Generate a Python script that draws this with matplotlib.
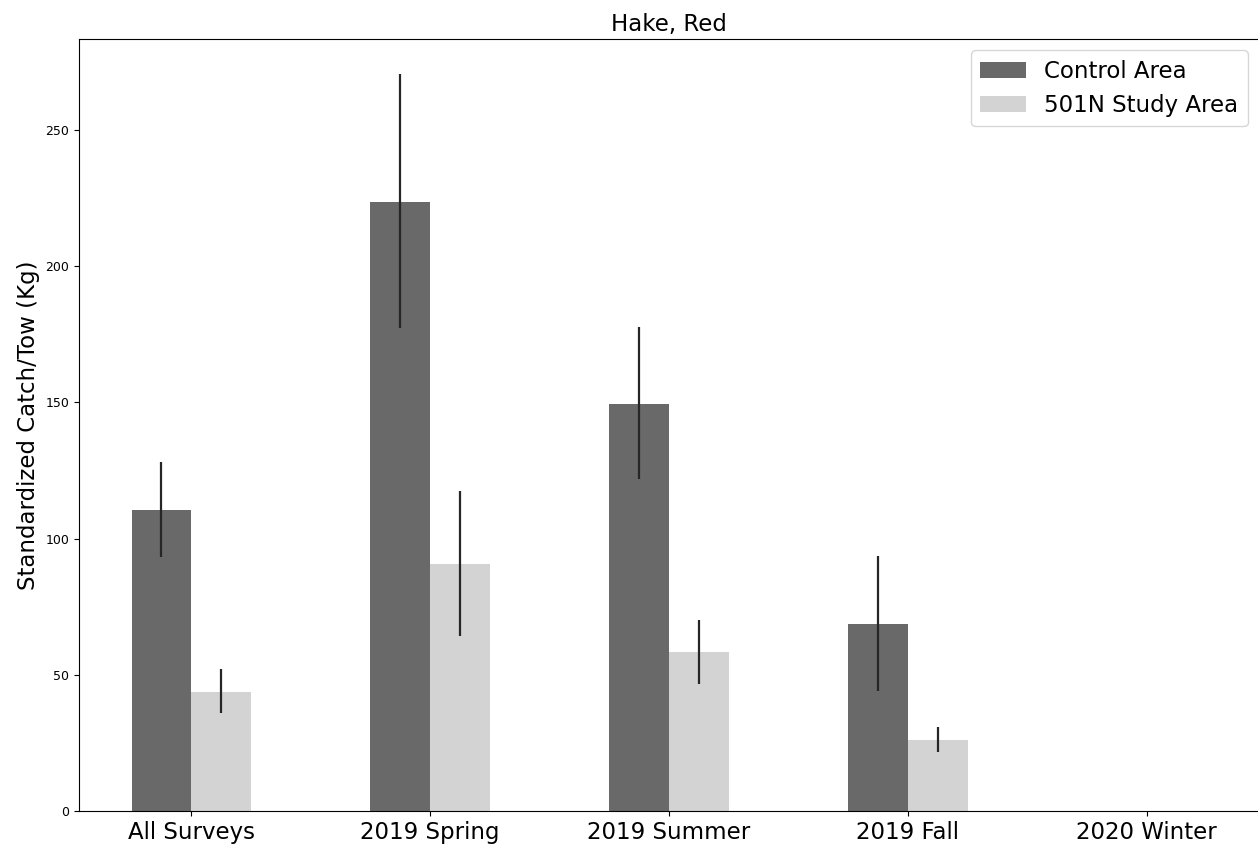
import matplotlib
matplotlib.use("Agg")
import matplotlib.pyplot as plt
import numpy as np

# Datos
categorias = ["All Surveys", "2019 Spring", "2019 Summer", "2019 Fall", "2020 Winter"]
control = [110.4, 223.4, 149.3, 68.6, 0.0]
control_sup = [128.0, 270.4, 177.5, 93.5, 0.0]
control_inf = [93.2, 177.2, 121.8, 44.0, 0.0]
estudio = [43.7, 90.6, 58.3, 26.0, 0.0]
estudio_sup = [52.1, 117.4, 70.1, 30.8, 0.0]
estudio_inf = [36.0, 64.2, 46.6, 21.6, 0.0]

control = np.array(control)
estudio = np.array(estudio)
err_control = [control - np.array(control_inf), np.array(control_sup) - control]
err_estudio = [estudio - np.array(estudio_inf), np.array(estudio_sup) - estudio]

fig = plt.figure(figsize=(12.58, 8.46), dpi=100)
ax = fig.add_axes([79/1258, 35/846, 1180/1258, 772/846])

x = np.arange(len(categorias))
ancho = 0.25
ax.bar(x - ancho/2, control, ancho, color="#696969", label="Control Area",
       yerr=err_control, error_kw=dict(ecolor="#262626", elinewidth=1.6, capsize=0))
ax.bar(x + ancho/2, estudio, ancho, color="#d3d3d3", label="501N Study Area",
       yerr=err_estudio, error_kw=dict(ecolor="#262626", elinewidth=1.6, capsize=0))

ax.set_xlim(-0.47, 4.47)
ax.set_ylim(0, 283.4)
ax.set_xticks(x)
ax.set_xticklabels(categorias, fontsize=16.5)
ax.tick_params(axis="y", labelsize=9)
ax.set_yticks([0, 50, 100, 150, 200, 250])
ax.set_ylabel("Standardized Catch/Tow (Kg)", fontsize=16.5)
ax.set_title("Hake, Red", fontsize=16.5)
ax.spines["right"].set_visible(False)
ax.legend(loc="upper right", fontsize=16.5)

plt.savefig("out.png", dpi=100)
